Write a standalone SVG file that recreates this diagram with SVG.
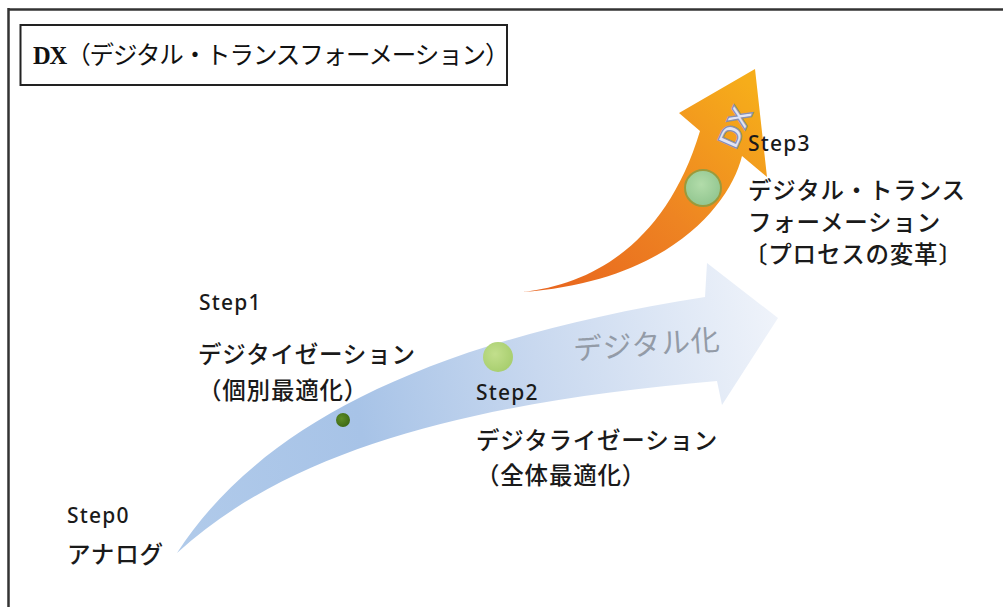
<svg xmlns="http://www.w3.org/2000/svg" width="1003" height="607" viewBox="0 0 1003 607">
<style>
.jp{font-family:"Noto Sans CJK JP","Noto Sans",sans-serif;font-size:23.5px;font-weight:500;fill:#1a1a1a;letter-spacing:0.8px}
.step{font-family:"Noto Sans","Liberation Sans",sans-serif;font-size:21px;font-weight:500;fill:#1a1a1a;letter-spacing:1.2px}
.frame{stroke:#333;stroke-width:2.5;fill:none}
</style>
<defs>
<linearGradient id="blueGrad" gradientUnits="userSpaceOnUse" x1="177" y1="450" x2="780" y2="330">
<stop offset="0" stop-color="#b0caea"/>
<stop offset="0.3" stop-color="#a7c3e7"/>
<stop offset="0.6" stop-color="#c8d8ef"/>
<stop offset="1" stop-color="#eff3fa"/>
</linearGradient>
<linearGradient id="orangeGrad" gradientUnits="userSpaceOnUse" x1="540" y1="295" x2="745" y2="80">
<stop offset="0" stop-color="#e8641e"/>
<stop offset="0.5" stop-color="#ee8422"/>
<stop offset="1" stop-color="#f6ad1a"/>
</linearGradient>
<radialGradient id="greenBig" cx="0.45" cy="0.4" r="0.6">
<stop offset="0" stop-color="#b2dcaa"/>
<stop offset="1" stop-color="#92c690"/>
</radialGradient>
<radialGradient id="greenMid" cx="0.4" cy="0.4" r="0.6">
<stop offset="0" stop-color="#c2df8c"/>
<stop offset="1" stop-color="#a9cf70"/>
</radialGradient>
<radialGradient id="greenSmall" cx="0.4" cy="0.4" r="0.6">
<stop offset="0" stop-color="#5e8d26"/>
<stop offset="1" stop-color="#3f6b16"/>
</radialGradient>
</defs>

<g id="frame">
<line class="frame" x1="8.5" y1="9.5" x2="1003" y2="9.5"/>
<line class="frame" x1="8.5" y1="8" x2="8.5" y2="607"/>
</g>

<g id="title">
<rect x="20.5" y="25" width="486.5" height="60" fill="#fff" stroke="#222" stroke-width="2"/>
<text x="33" y="64" style="font-family:'Liberation Serif','Noto Sans CJK JP',serif;font-size:24.5px;fill:#111;letter-spacing:-1.1px"><tspan font-weight="bold">DX</tspan><tspan style="font-family:'Noto Sans CJK JP',sans-serif">（デジタル・トランスフォーメーション）</tspan></text>
</g>

<g id="connectors">
<path id="arrow-digital" d="M177,553 C250,440 400,345 705,297 L707,263 L778,318 L722,405 L717,381 C500,400 300,440 177,553 Z" fill="url(#blueGrad)"/>
<path id="arrow-dx" d="M522,292 C598,284 668,238 700,131 L679,113 L755,69 L767,177 L742,156 C730,205 668,282 522,292 Z" fill="url(#orangeGrad)"/>
</g>

<g id="label-digital">
<text x="574" y="360" transform="rotate(-4 574 360)" style="font-family:'Noto Sans CJK JP',sans-serif;font-size:29px;fill:#939ba7;letter-spacing:0.5px">デジタル化</text>
</g>

<g id="label-dx">
<text x="735" y="127" transform="rotate(-66 735 127)" text-anchor="middle" dominant-baseline="central" style="font-family:'Liberation Sans',sans-serif;font-size:30px;font-weight:bold;fill:#e2e4f4;stroke:#8a90ad;stroke-width:1.3">DX</text>
</g>

<g id="step0">
<text class="step" x="67" y="523">Step0</text>
<text class="jp" x="67" y="563">アナログ</text>
</g>

<g id="step1">
<circle cx="343" cy="420" r="7" fill="url(#greenSmall)"/>
<text class="step" x="199" y="310">Step1</text>
<text class="jp" x="198" y="363">デジタイゼーション</text>
<text class="jp" x="198" y="399">（個別最適化）</text>
</g>

<g id="step2">
<circle cx="498" cy="357" r="15" fill="url(#greenMid)"/>
<text class="step" x="476" y="400">Step2</text>
<text class="jp" x="476" y="449">デジタライゼーション</text>
<text class="jp" x="476" y="484">（全体最適化）</text>
</g>

<g id="step3">
<circle cx="703" cy="188" r="18" fill="url(#greenBig)" stroke="#9a9a3c" stroke-width="2"/>
<text class="step" x="748" y="151">Step3</text>
<text class="jp" x="748" y="199" letter-spacing="-2">デジタル・トランス</text>
<text class="jp" x="748" y="231" letter-spacing="0">フォーメーション</text>
<text class="jp" x="744" y="263" letter-spacing="-1.5">〔プロセスの変革〕</text>
</g>
</svg>
